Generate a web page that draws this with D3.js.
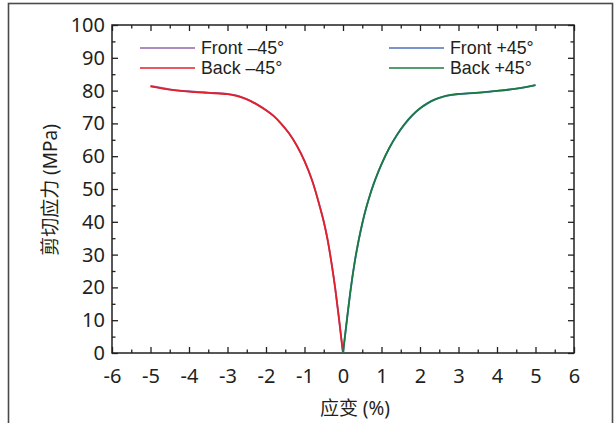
<!DOCTYPE html>
<html>
<head>
<meta charset="utf-8">
<script src="https://cdn.jsdelivr.net/npm/d3@7"></script>
<style>
  body { margin: 0; background: #fff; }
  text { font-family: "Noto Sans", "Noto Sans CJK SC", sans-serif; fill: #231f20; }
</style>
</head>
<body>
<div id="chart"></div>
<script>
// data (strain %, shear stress MPa)
var backNegX  = [-5, -4.5, -4, -3.5, -3, -2.8, -2.6, -2.4, -2.2, -2.0, -1.8, -1.6, -1.4, -1.2, -1.0, -0.8, -0.6, -0.5, -0.4, -0.3, -0.2, -0.1, 0];
var backNegY  = [81.3, 80.3, 79.7, 79.3, 78.9, 78.5, 77.8, 76.8, 75.5, 74.0, 72.2, 69.8, 66.9, 63.2, 58.5, 52.5, 44.5, 40.0, 34.5, 27.5, 19.5, 10.0, 0];
var frontNegX = [-5, -4.5, -4, -3.5, -3, -2.8, -2.6, -2.4, -2.2, -2.0, -1.8, -1.6, -1.4, -1.2, -1.0, -0.8, -0.6, -0.5, -0.4, -0.3, -0.2, -0.1, 0];
var frontNegY = [81.4, 80.4, 79.8, 79.4, 79.0, 78.6, 77.9, 76.9, 75.6, 74.1, 72.3, 69.9, 67.0, 63.3, 58.6, 52.6, 44.6, 40.1, 34.6, 27.6, 19.5, 10.0, 0];
var frontPosX = [0, 0.1, 0.2, 0.3, 0.4, 0.5, 0.6, 0.7, 0.8, 0.9, 1.0, 1.2, 1.4, 1.6, 1.8, 2.0, 2.2, 2.4, 2.6, 2.8, 3.0, 3.5, 4.0, 4.5, 5.0];
var frontPosY = [0, 9.9, 19.4, 27.4, 33.9, 39.4, 44.1, 48.1, 51.6, 54.7, 57.5, 62.4, 66.4, 69.7, 72.4, 74.5, 76.1, 77.3, 78.1, 78.6, 78.9, 79.3, 79.9, 80.6, 81.7];
var backPosX  = [0, 0.1, 0.2, 0.3, 0.4, 0.5, 0.6, 0.7, 0.8, 0.9, 1.0, 1.2, 1.4, 1.6, 1.8, 2.0, 2.2, 2.4, 2.6, 2.8, 3.0, 3.5, 4.0, 4.5, 5.0];
var backPosY  = [0, 10.0, 19.5, 27.5, 34.0, 39.5, 44.2, 48.2, 51.7, 54.8, 57.6, 62.5, 66.5, 69.8, 72.5, 74.6, 76.2, 77.4, 78.2, 78.7, 79.0, 79.4, 79.9, 80.6, 81.7];

var xTicks = [-6, -5, -4, -3, -2, -1, 0, 1, 2, 3, 4, 5, 6];
var yTicks = [0, 10, 20, 30, 40, 50, 60, 70, 80, 90, 100];
var seriesNames = ["Front \u201345\u00b0", "Back \u201345\u00b0", "Front +45\u00b0", "Back +45\u00b0"];
var seriesColors = ["#9164aa", "#e3202a", "#4f72b8", "#1a7b41"];

var W = 615, H = 423;
var margin = {top: 25, right: 41, bottom: 70, left: 112},
    width = 574 - margin.left,
    height = 353 - margin.top;

var svg = d3.select("#chart").append("svg")
  .attr("width", W).attr("height", H);

// outer frame
svg.append("rect")
  .attr("x", 8.5).attr("y", 3.5)
  .attr("width", 604).attr("height", 440)
  .attr("fill", "none").attr("stroke", "#4a4a4a").attr("stroke-width", 1.6);

var g = svg.append("g")
  .attr("transform", "translate(" + margin.left + "," + margin.top + ")");

var x = d3.scaleLinear().domain([-6, 6]).range([0, width]);
var y = d3.scaleLinear().domain([0, 100]).range([height, 0]);

var minorX = d3.range(-5.5, 6, 1);
var minorY = d3.range(5, 100, 10);

function styleAxis(sel) {
  sel.select(".domain").remove();
  sel.selectAll("line").attr("stroke", "#231f20").attr("stroke-width", 1.3);
}

// bottom axis with labels
g.append("g")
  .attr("transform", "translate(0," + height + ")")
  .call(d3.axisBottom(x).tickValues(xTicks).tickFormat(function(d) { return String(d); })
    .tickSizeInner(-6).tickSizeOuter(0).tickPadding(16))
  .call(styleAxis)
  .selectAll("text").style("font-size", "20px");
g.append("g")
  .attr("transform", "translate(0," + height + ")")
  .call(d3.axisBottom(x).tickValues(minorX).tickFormat("").tickSizeInner(-3.5).tickSizeOuter(0))
  .call(styleAxis);

// top axis
g.append("g")
  .call(d3.axisTop(x).tickValues(xTicks).tickFormat("").tickSizeInner(-6).tickSizeOuter(0))
  .call(styleAxis);
g.append("g")
  .call(d3.axisTop(x).tickValues(minorX).tickFormat("").tickSizeInner(-3.5).tickSizeOuter(0))
  .call(styleAxis);

// left axis with labels
g.append("g")
  .call(d3.axisLeft(y).tickValues(yTicks).tickSizeInner(-6).tickSizeOuter(0).tickPadding(7))
  .call(styleAxis)
  .selectAll("text").style("font-size", "20px");
g.append("g")
  .call(d3.axisLeft(y).tickValues(minorY).tickFormat("").tickSizeInner(-3.5).tickSizeOuter(0))
  .call(styleAxis);

// right axis
g.append("g")
  .attr("transform", "translate(" + width + ",0)")
  .call(d3.axisRight(y).tickValues(yTicks).tickFormat("").tickSizeInner(-6).tickSizeOuter(0))
  .call(styleAxis);
g.append("g")
  .attr("transform", "translate(" + width + ",0)")
  .call(d3.axisRight(y).tickValues(minorY).tickFormat("").tickSizeInner(-3.5).tickSizeOuter(0))
  .call(styleAxis);

// plot box
g.append("rect")
  .attr("width", width).attr("height", height)
  .attr("fill", "none").attr("stroke", "#231f20").attr("stroke-width", 1.5);

// curves
var line = d3.line()
  .x(function(d) { return x(d[0]); })
  .y(function(d) { return y(d[1]); })
  .curve(d3.curveMonotoneX);

var series = [
  d3.zip(frontNegX, frontNegY),
  d3.zip(backNegX, backNegY),
  d3.zip(frontPosX, frontPosY),
  d3.zip(backPosX, backPosY)
];

series.forEach(function(s, i) {
  g.append("path")
    .datum(s)
    .attr("fill", "none")
    .attr("stroke", seriesColors[i])
    .attr("stroke-width", 1.8)
    .attr("d", line);
});

// legend
var legendPos = [[140, 48], [140, 68], [389, 48], [389, 68]];
seriesNames.forEach(function(name, i) {
  var p = legendPos[i];
  svg.append("line")
    .attr("x1", p[0]).attr("x2", p[0] + 55)
    .attr("y1", p[1]).attr("y2", p[1])
    .attr("stroke", seriesColors[i]).attr("stroke-width", 1.6);
  svg.append("text")
    .attr("x", p[0] + 61).attr("y", p[1])
    .attr("dy", "0.36em")
    .style("font-family", "'Liberation Sans', Arial, sans-serif")
    .style("font-size", "17.8px")
    .text(name);
});

// axis titles
svg.append("text")
  .attr("x", 355).attr("y", 415)
  .attr("text-anchor", "middle")
  .style("font-size", "19px")
  .text("应变 (%)");

svg.append("text")
  .attr("transform", "translate(57,190)rotate(-90)")
  .attr("text-anchor", "middle")
  .style("font-size", "19px")
  .text("剪切应力 (MPa)");
</script>
</body>
</html>
